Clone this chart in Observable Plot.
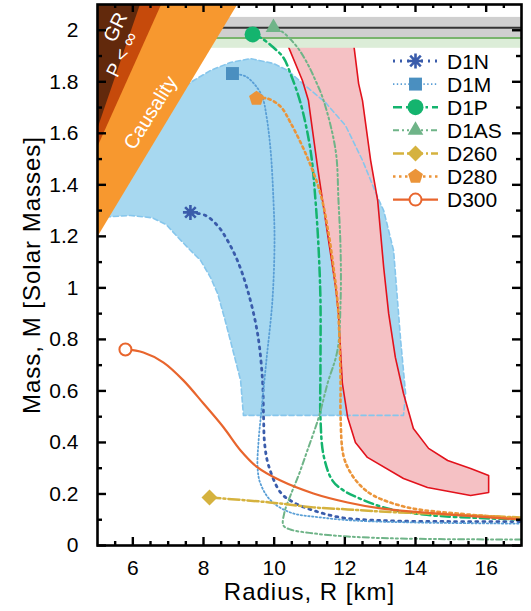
<!DOCTYPE html>
<html><head><meta charset="utf-8">
<script src="https://cdn.jsdelivr.net/npm/d3@7"></script>
<script src="https://cdn.jsdelivr.net/npm/@observablehq/plot@0.6"></script>
<style>
html,body{margin:0;padding:0;background:#fff;}
</style></head>
<body><div id="chart"></div>
<script>
// ---------- axes ----------
const xTicks = [6, 8, 10, 12, 14, 16];
const xMinorTicks = [5.5, 6.5, 7, 7.5, 8.5, 9, 9.5, 10.5, 11, 11.5, 12.5, 13, 13.5, 14.5, 15, 15.5, 16.5];
const yTicks = [0, 0.2, 0.4, 0.6, 0.8, 1, 1.2, 1.4, 1.6, 1.8, 2];
const yMinorTicks = [0.1, 0.3, 0.5, 0.7, 0.9, 1.1, 1.3, 1.5, 1.7, 1.9];
const xLabel = "Radius, R [km]";
const yLabel = "Mass, M [Solar Masses]";

// ---------- forbidden wedges [R, M] ----------
const grRegion = [[4.9, 1.58], [6.25, 2.12], [4.9, 2.12]];
const pInfRegion = [[4.9, 1.519], [6.865, 2.12], [4.9, 2.12]];
const causalRegion = [[4.9, 1.177], [9.04, 2.12], [4.9, 2.12]];
const regionLabelText = ["GR", "P < \u221E", "Causality"];
const regionLabelR = [5.51, 5.70, 6.5];
const regionLabelM = [2.012, 1.906, 1.68];

// ---------- pulsar mass bands ----------
const bandLow = [1.93, 1.97];
const bandHigh = [2.01, 2.05];
const bandCenter = [1.97, 2.01];

// ---------- constraint regions [R, M] ----------
const blueRegion = [[5.0,1.273],[5.93,1.281],[6.55,1.272],[6.95,1.245],[7.25,1.200],[7.60,1.150],[7.92,1.106],[8.20,1.04],[8.40,0.978],[8.60,0.88],[8.76,0.796],[9.05,0.641],[9.13,0.505],[13.66,0.505],[13.72,0.59],[13.58,0.796],[13.38,1.145],[13.10,1.30],[12.93,1.351],[12.50,1.495],[12.02,1.63],[11.45,1.72],[10.94,1.778],[10.38,1.844],[9.98,1.871],[9.33,1.89],[8.76,1.875],[8.20,1.844],[7.72,1.805],[6.5,1.69],[5.0,1.53]];
const redRegion = [[10.27,1.98],[10.80,1.805],[10.97,1.727],[11.23,1.467],[11.51,1.211],[11.74,1.002],[11.82,0.901],[11.93,0.629],[12.08,0.497],[12.30,0.40],[12.64,0.342],[13.66,0.26],[14.34,0.225],[15.56,0.194],[16.07,0.206],[16.07,0.272],[15.56,0.299],[14.91,0.33],[14.37,0.377],[13.94,0.454],[13.66,0.59],[13.43,0.73],[13.24,0.901],[13.10,1.079],[12.93,1.339],[12.73,1.495],[12.50,1.727],[12.39,1.793],[12.22,1.98]];

// ---------- mass-radius curves [R, M]; first point = maximum mass ----------
const d1n = [[7.63,1.293],[8.06,1.281],[8.42,1.238],[8.68,1.184],[8.96,1.106],[9.25,0.99],[9.53,0.823],[9.67,0.641],[9.70,0.497],[9.73,0.396],[9.84,0.311],[10.18,0.206],[10.55,0.167],[11.11,0.136],[11.88,0.109],[13.01,0.097],[15.0,0.093],[16.97,0.093]];
const d1m = [[8.82,1.832],[9.19,1.821],[9.47,1.786],[9.67,1.739],[9.78,1.669],[9.90,1.533],[9.98,1.339],[10.01,1.184],[9.95,0.951],[9.78,0.718],[9.64,0.524],[9.56,0.408],[9.53,0.303],[9.61,0.241],[9.90,0.175],[10.46,0.128],[11.31,0.109],[12.25,0.097],[14.14,0.089],[16.97,0.085]];
const d1p = [[9.39,1.984],[9.61,1.972],[9.98,1.933],[10.26,1.894],[10.46,1.832],[10.75,1.716],[11.03,1.533],[11.17,1.339],[11.26,1.145],[11.31,0.951],[11.31,0.691],[11.31,0.497],[11.40,0.349],[11.65,0.252],[11.96,0.214],[12.36,0.186],[13.10,0.148],[14.23,0.120],[16.12,0.105],[16.97,0.101]];
const d1as = [[9.98,2.011],[10.26,1.991],[10.66,1.933],[10.94,1.871],[11.17,1.805],[11.40,1.727],[11.74,1.533],[11.82,1.339],[11.88,1.145],[11.88,0.951],[11.79,0.757],[11.51,0.629],[11.26,0.497],[10.94,0.369],[10.69,0.272],[10.46,0.194],[10.29,0.128],[10.26,0.078],[10.46,0.062],[11.11,0.047],[12.08,0.035],[13.58,0.027],[16.97,0.023]];
const d260 = [[8.17,0.186],[9.25,0.175],[10.18,0.163],[11.11,0.148],[12.08,0.140],[13.01,0.132],[14.99,0.120],[16.97,0.109]];
const d280 = [[9.50,1.735],[9.81,1.735],[10.18,1.704],[10.46,1.642],[10.94,1.506],[11.31,1.366],[11.54,1.211],[11.68,1.079],[11.79,0.951],[11.85,0.796],[11.88,0.629],[11.88,0.497],[11.96,0.349],[12.16,0.283],[12.44,0.233],[12.81,0.194],[13.77,0.148],[15.19,0.124],[16.97,0.105]];
const d300 = [[5.79,0.761],[6.30,0.749],[6.87,0.710],[7.43,0.641],[8.00,0.551],[8.57,0.458],[9.05,0.369],[9.53,0.303],[10.18,0.252],[11.11,0.202],[12.08,0.167],[13.01,0.144],[14.99,0.120],[16.97,0.101]];

const seriesNames = ["D1N", "D1M", "D1P", "D1AS", "D260", "D280", "D300"];
const seriesData = {D1N: d1n, D1M: d1m, D1P: d1p, D1AS: d1as, D260: d260, D280: d280, D300: d300};

// ---------- styles ----------
const asterisk8 = {draw(ctx, size) {
  const r = Math.sqrt(size / Math.PI);
  for (const a of [0, Math.PI / 4, Math.PI / 2, 3 * Math.PI / 4]) {
    const c = Math.cos(a) * r, s = Math.sin(a) * r;
    ctx.moveTo(-c, -s); ctx.lineTo(c, s);
  }
}};
const pentagon = {draw(ctx, size) {
  const r = Math.sqrt(size / Math.PI);
  for (let i = 0; i < 5; i++) {
    const a = -Math.PI / 2 + i * 2 * Math.PI / 5;
    const x = r * Math.cos(a), y = r * Math.sin(a);
    if (i) ctx.lineTo(x, y); else ctx.moveTo(x, y);
  }
  ctx.closePath();
}};
const styles = {
  D1N:  {color: "#3a5cab", width: 2.8, dash: "2 5", symbol: asterisk8, r: 7.5, fill: "none", mstroke: "#3a5cab", mwidth: 2.6},
  D1M:  {color: "#5a9fd6", width: 1.8, dash: "1.4 2.4", symbol: d3.symbolSquare, r: 7.3, fill: "#4a8fc0", mstroke: "none", mwidth: 0},
  D1P:  {color: "#14b46e", width: 2.5, dash: "9 4 2.5 4", symbol: d3.symbolCircle, r: 8, fill: "#14b46e", mstroke: "none", mwidth: 0},
  D1AS: {color: "#6fb488", width: 2, dash: "6 3 2 3 2 3", symbol: d3.symbolTriangle, r: 5.8, fill: "#6fb488", mstroke: "none", mwidth: 0},
  D260: {color: "#d5b23e", width: 2.5, dash: "11 3 2 3", symbol: d3.symbolDiamond2, r: 7.2, fill: "#d5b23e", mstroke: "none", mwidth: 0},
  D280: {color: "#eb9439", width: 2.6, dash: "2.5 3.5", symbol: pentagon, r: 7.8, fill: "#eb9439", mstroke: "none", mwidth: 0},
  D300: {color: "#e8652d", width: 2.2, dash: null, symbol: d3.symbolCircle, r: 6, fill: "white", mstroke: "#e8652d", mwidth: 2}
};

const R = d => d[0], M = d => d[1];
const W = 531, H = 611, mL = 97, mR = 10, mT = 4, mB = 66;
const plotW = W - mL - mR, plotH = H - mT - mB;

const marks = [
  // constraint regions
  Plot.line(blueRegion, {x: R, y: M, fill: "#a7d8f0", stroke: "none", curve: "linear-closed", clip: true}),
  Plot.line(redRegion, {x: R, y: M, fill: "#f5c1c4", stroke: "none", curve: "linear-closed", clip: true}),
  Plot.line(blueRegion, {x: R, y: M, stroke: "#86c6ec", strokeWidth: 1.6, strokeDasharray: "5 3", curve: "linear-closed", clip: true}),
  Plot.line(redRegion, {x: R, y: M, stroke: "#e2121c", strokeWidth: 1.6, curve: "linear-closed", clip: true}),
  // pulsar bands
  Plot.rect([0], {y1: () => bandLow[0], y2: () => bandHigh[0], fill: "#dcedd8"}),
  Plot.rect([0], {y1: () => bandLow[1], y2: () => bandHigh[1], fill: "#cfcfcf"}),
  Plot.ruleY([bandCenter[0]], {stroke: "#78b46c", strokeWidth: 2}),
  Plot.ruleY([bandCenter[1]], {stroke: "#333333", strokeWidth: 2}),
  // forbidden wedges
  Plot.line(causalRegion, {x: R, y: M, fill: "#f7982f", stroke: "none", curve: "linear-closed", clip: true}),
  Plot.line(pInfRegion, {x: R, y: M, fill: "#c64a0b", stroke: "none", curve: "linear-closed", clip: true}),
  Plot.line(grRegion, {x: R, y: M, fill: "#62290c", stroke: "none", curve: "linear-closed", clip: true}),
  Plot.text([0], {x: () => regionLabelR[0], y: () => regionLabelM[0], text: () => regionLabelText[0], rotate: -64, fill: "white", fontSize: 20}),
  Plot.text([0], {x: () => regionLabelR[1], y: () => regionLabelM[1], text: () => regionLabelText[1], rotate: -64, fill: "white", fontSize: 19}),
  Plot.text([0], {x: () => regionLabelR[2], y: () => regionLabelM[2], text: () => regionLabelText[2], rotate: -58, fill: "white", fontSize: 20}),
  // curves
  ...seriesNames.map(n => Plot.line(seriesData[n], {x: R, y: M, stroke: styles[n].color, strokeWidth: styles[n].width, strokeDasharray: styles[n].dash || undefined, curve: "catmull-rom", clip: true})),
  // markers
  ...seriesNames.map(n => Plot.dot([seriesData[n][0]], {x: R, y: M, symbol: styles[n].symbol, r: styles[n].r, fill: styles[n].fill, stroke: styles[n].mstroke, strokeWidth: styles[n].mwidth})),
  // inward ticks on all sides
  Plot.tickY(yTicks, {y: d => d, insetRight: plotW - 9, stroke: "black", strokeWidth: 2.4}),
  Plot.tickY(yMinorTicks, {y: d => d, insetRight: plotW - 5, stroke: "black", strokeWidth: 2.4}),
  Plot.tickY(yTicks, {y: d => d, insetLeft: plotW - 9, stroke: "black", strokeWidth: 2.4}),
  Plot.tickY(yMinorTicks, {y: d => d, insetLeft: plotW - 5, stroke: "black", strokeWidth: 2.4}),
  Plot.tickX(xTicks, {x: d => d, insetTop: plotH - 8, stroke: "black", strokeWidth: 2.4}),
  Plot.tickX(xMinorTicks, {x: d => d, insetTop: plotH - 4, stroke: "black", strokeWidth: 2.4}),
  Plot.tickX(xTicks, {x: d => d, insetBottom: plotH - 8, stroke: "black", strokeWidth: 2.4}),
  Plot.tickX(xMinorTicks, {x: d => d, insetBottom: plotH - 4, stroke: "black", strokeWidth: 2.4}),
  Plot.frame({stroke: "black", strokeWidth: 2.6}),
  // axis titles
  Plot.text([xLabel], {frameAnchor: "bottom", dy: 47, lineAnchor: "middle", textAnchor: "middle", text: d => d, fontSize: 24, fill: "black"}),
  Plot.text([yLabel], {frameAnchor: "left", dx: -65, rotate: -90, lineAnchor: "middle", textAnchor: "middle", text: d => d, fontSize: 24, fill: "black"})
];

const chart = Plot.plot({
  width: W, height: H,
  marginLeft: mL, marginRight: mR, marginTop: mT, marginBottom: mB,
  style: {fontFamily: "'Liberation Sans', Arial, Helvetica, sans-serif", fontSize: "21px", background: "white", color: "black"},
  x: {domain: [5, 17], ticks: xTicks, tickSize: 0, tickPadding: 15, label: null},
  y: {domain: [0, 2.1], ticks: yTicks, tickSize: 0, tickPadding: 19, label: null, tickFormat: d => String(Math.round(d * 10) / 10)},
  marks
});
document.getElementById("chart").appendChild(chart);

// letter spacing for axis titles
d3.select(chart).selectAll("text").filter(function() { return this.textContent === xLabel || this.textContent === yLabel; })
  .attr("letter-spacing", "1px");

// ---------- legend (inside plot, top right) ----------
const lg = d3.select(chart).append("g").attr("font-size", 21).attr("text-anchor", "start")
  .attr("font-family", "'Liberation Sans', Arial, Helvetica, sans-serif");
seriesNames.forEach((n, i) => {
  const st = styles[n];
  const y = 61 + i * 23.1;
  lg.append("line").attr("x1", 393).attr("x2", 438).attr("y1", y).attr("y2", y)
    .attr("stroke", st.color).attr("stroke-width", st.width).attr("stroke-dasharray", st.dash);
  lg.append("path").attr("transform", `translate(415.5,${y})`)
    .attr("d", d3.symbol(st.symbol, Math.PI * st.r * st.r)())
    .attr("fill", st.fill).attr("stroke", st.mstroke).attr("stroke-width", st.mwidth);
  lg.append("text").attr("x", 447).attr("y", y).attr("dy", "0.36em").attr("fill", "black").attr("text-anchor", "start").text(n);
});
</script>
</body></html>
